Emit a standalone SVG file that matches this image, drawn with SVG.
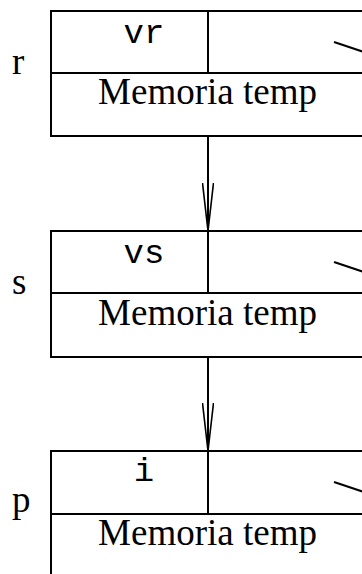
<svg xmlns="http://www.w3.org/2000/svg" width="362" height="574" viewBox="0 0 362 574">
  <style>
    .box { fill: none; stroke: #000; stroke-width: 2; }
    .ln { stroke: #000; stroke-width: 2; fill: none; }
    .mono { font-family: "Liberation Mono", "Courier New", monospace; font-size: 34px; fill: #000; }
    .serif { font-family: "Liberation Serif", "Times New Roman", serif; font-size: 37px; fill: #000; }
  </style>
  <defs>
    <!-- open stick arrowhead, drawn along +x so orient="auto" follows the line -->
    <marker id="stick" viewBox="0 0 50 12" refX="48" refY="6" markerWidth="50" markerHeight="12" markerUnits="userSpaceOnUse" orient="auto">
      <path d="M0,0.5 L48,6 L0,11.5" fill="none" stroke="#000" stroke-width="1.6"/>
    </marker>
  </defs>
  <rect width="362" height="574" fill="#fff"/>

  <g id="frame-r">
    <path class="box" d="M370,11 H51 V136 H370 M51,73 H370 M208,11 V73"/>
    <line class="ln" x1="334" y1="42" x2="364" y2="52"/>
    <text class="mono" x="144" y="43" text-anchor="middle">vr</text>
    <text class="serif" x="207.5" y="104" text-anchor="middle">Memoria temp</text>
    <text class="serif" x="12" y="74">r</text>
  </g>

  <g id="frame-s">
    <path class="box" d="M370,231 H51 V357 H370 M51,293 H370 M208,231 V293"/>
    <line class="ln" x1="334" y1="262" x2="364" y2="272"/>
    <text class="mono" x="144" y="263" text-anchor="middle">vs</text>
    <text class="serif" x="207.5" y="325" text-anchor="middle">Memoria temp</text>
    <text class="serif" x="12" y="294">s</text>
  </g>

  <g id="frame-p">
    <path class="box" d="M370,451 H51 V580 M51,514 H370 M208,451 V514"/>
    <line class="ln" x1="334" y1="482" x2="364" y2="492"/>
    <text class="mono" x="144" y="481" text-anchor="middle">i</text>
    <text class="serif" x="207.5" y="545" text-anchor="middle">Memoria temp</text>
    <text class="serif" x="12" y="512">p</text>
  </g>

  <g id="connectors">
    <line class="ln" x1="208" y1="136" x2="208" y2="231" marker-end="url(#stick)"/>
    <line class="ln" x1="208" y1="357" x2="208" y2="451" marker-end="url(#stick)"/>
  </g>
</svg>
